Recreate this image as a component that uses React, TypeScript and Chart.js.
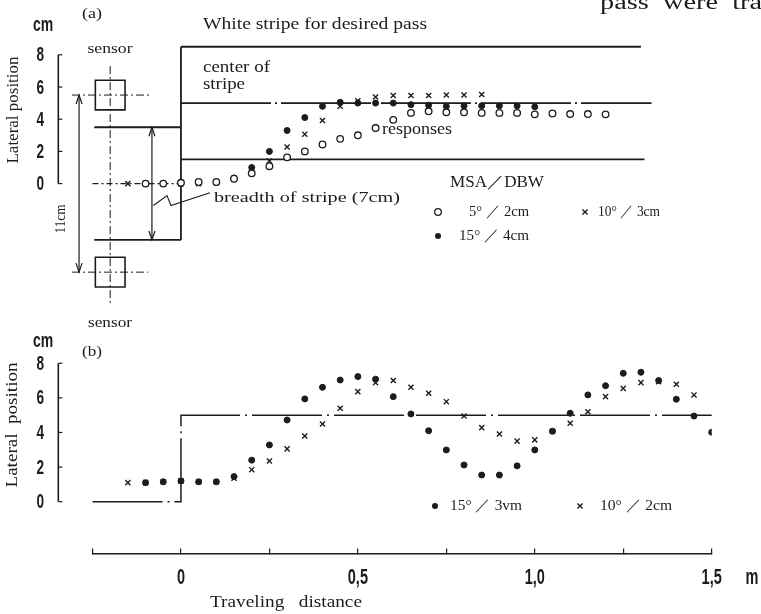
import React, { useEffect, useRef } from 'react';
import { Chart, registerables } from 'chart.js';

Chart.register(...registerables);

const INK = '#1c1c1c';
const SERIF = '"Liberation Serif", "DejaVu Serif", serif';
const SANS = '"Liberation Sans", "DejaVu Sans", sans-serif';

// ---------- (a) responses, traveling distance in m, lateral position in cm ----------
const aDistance = [-0.15, -0.1, -0.05, 0, 0.05, 0.1, 0.15, 0.2, 0.25, 0.3, 0.35, 0.4, 0.45, 0.5, 0.55, 0.6, 0.65, 0.7, 0.75, 0.8, 0.85, 0.9, 0.95, 1.0, 1.05, 1.1, 1.15, 1.2];
const aMsa5Dbw2 = [null, 0, 0, 0.05, 0.1, 0.1, 0.3, 0.64, 1.08, 1.63, 2.0, 2.43, 2.78, 3.0, 3.45, 3.96, 4.39, 4.49, 4.43, 4.43, 4.39, 4.39, 4.39, 4.3, 4.36, 4.32, 4.32, 4.3];
const aMsa10Dbw3 = [0, 0, 0, 0, 0, 0.05, 0.3, 0.9, 1.4, 2.27, 3.07, 3.92, 4.8, 5.15, 5.38, 5.47, 5.47, 5.47, 5.5, 5.5, 5.53, null, null, null, null, null, null, null];
const aMsa15Dbw4 = [null, 0, 0, 0, 0.05, 0.1, 0.35, 1.0, 2.0, 3.3, 4.1, 4.8, 5.05, 5.0, 5.0, 5.0, 4.9, 4.87, 4.8, 4.83, 4.83, 4.83, 4.83, 4.77, null, null, null, null];

// stripe geometry of (a): [distance m, lateral cm]
const aStripeUpperBefore = [[-0.245, 3.5], [0, 3.5]];
const aStripeLowerBefore = [[-0.245, -3.5], [0, -3.5]];
const aStripeUpperAfter = [[0, 8.5], [1.3, 8.5]];
const aStripeLowerAfter = [[0, 1.5], [1.31, 1.5]];
const aStripeStep = [[0, -3.5], [0, 8.5]];
const aCenterBefore = [[-0.25, 0], [0, 0]];
const aCenterAfter = [[0, 5], [1.33, 5]];
const aSensors = [[-0.2, 5.5], [-0.2, -5.5]];
const aSensorAxis = [[-0.2, 7.3], [-0.2, -7.6]];
const aSensorUpperCross = [[-0.308, 5.5], [-0.082, 5.5]];
const aSensorLowerCross = [[-0.308, -5.5], [-0.093, -5.5]];
const aSensorGapArrow = [[-0.288, 5.5], [-0.288, -5.5]];
const aBreadthArrow = [[-0.082, 3.5], [-0.082, -3.5]];
const aBreadthLeader = [[-0.0777, -1.36], [-0.0395, -0.74], [-0.0282, -1.36], [0.082, -0.57]];

// ---------- (b) responses ----------
const bDistance = [-0.15, -0.1, -0.05, 0, 0.05, 0.1, 0.15, 0.2, 0.25, 0.3, 0.35, 0.4, 0.45, 0.5, 0.55, 0.6, 0.65, 0.7, 0.75, 0.8, 0.85, 0.9, 0.95, 1.0, 1.05, 1.1, 1.15, 1.2, 1.25, 1.3, 1.35, 1.4, 1.45, 1.5];
const bMsa15Dbw3 = [null, 1.1, 1.15, 1.2, 1.15, 1.15, 1.45, 2.4, 3.28, 4.72, 5.94, 6.61, 7.03, 7.23, 7.08, 6.07, 5.07, 4.1, 2.99, 2.12, 1.54, 1.54, 2.07, 2.99, 4.07, 5.11, 6.17, 6.7, 7.42, 7.48, 7.0, 5.92, 4.95, 4.01];
const bMsa10Dbw2 = [1.1, 1.1, 1.15, 1.2, 1.15, 1.15, 1.35, 1.85, 2.35, 3.05, 3.8, 4.49, 5.4, 6.36, 6.88, 7.0, 6.61, 6.27, 5.78, 4.95, 4.28, 3.91, 3.5, 3.57, 4.07, 4.53, 5.2, 6.07, 6.55, 6.88, 6.94, 6.79, 6.17, null];
const bDesiredPath = [[-0.25, 0], [0, 0], [0, 5], [1.5, 5]];

// ---------- axes ----------
const yTickValues = [0, 2, 4, 6, 8];
const xTickMarks = [-0.25, 0, 0.25, 0.5, 0.75, 1.0, 1.25, 1.5];
const xTickLabelValues = [0, 0.5, 1.0, 1.5];
const xTickLabelTexts = ['0', '0,5', '1,0', '1,5'];

const B_TOP = 330;

type Pair = number[];
const pts = (xs: number[], ys: (number | null)[]) =>
  xs.map((x, i) => ({ x, y: ys[i] })).filter((p) => p.y !== null) as { x: number; y: number }[];
const path = (pairs: Pair[]) => pairs.map(([x, y]) => ({ x, y }));

const lineDs = (pairs: Pair[], width = 1.6, dash: number[] = []) => ({
  data: path(pairs),
  showLine: true,
  pointRadius: 0,
  borderColor: INK,
  borderWidth: width,
  borderDash: dash,
  fill: false,
  clip: false as const,
  order: 2,
});

const openCircle = { pointStyle: 'circle', pointRadius: 3.3, pointBorderWidth: 1.3, pointBackgroundColor: '#fff', pointBorderColor: INK, showLine: false, order: 0 };
const cross = { pointStyle: 'crossRot', pointRadius: 3.6, pointBorderWidth: 1.4, pointBorderColor: INK, pointBackgroundColor: INK, showLine: false, order: 0 };
const dot = { pointStyle: 'circle', pointRadius: 3, pointBorderWidth: 1, pointBackgroundColor: INK, pointBorderColor: INK, showLine: false, order: 0 };

function fitText(ctx: CanvasRenderingContext2D, text: string, x: number, y: number, w: number, font: string, align: CanvasTextAlign = 'left', rotate = 0, baseline: CanvasTextBaseline = 'middle') {
  ctx.save();
  ctx.font = font;
  const m = ctx.measureText(text).width;
  ctx.translate(x, y);
  if (rotate) ctx.rotate(rotate);
  ctx.scale(w / m, 1);
  ctx.textAlign = align;
  ctx.textBaseline = baseline;
  ctx.fillStyle = INK;
  ctx.fillText(text, 0, 0);
  ctx.restore();
}

function condensed(ctx: CanvasRenderingContext2D, text: string, cx: number, cy: number, size: number, sx = 0.68) {
  ctx.save();
  ctx.font = `bold ${size}px ${SANS}`;
  ctx.translate(cx, cy);
  ctx.scale(sx, 1);
  ctx.textAlign = 'center';
  ctx.textBaseline = 'middle';
  ctx.fillStyle = INK;
  ctx.fillText(text, 0, 0);
  ctx.restore();
}

function drawYAxis(chart: any, axisX: number) {
  const ctx: CanvasRenderingContext2D = chart.ctx;
  const y = chart.scales.y;
  const top = y.getPixelForValue(yTickValues[yTickValues.length - 1]);
  const bot = y.getPixelForValue(yTickValues[0]);
  ctx.save();
  ctx.strokeStyle = INK;
  ctx.lineWidth = 1.6;
  ctx.beginPath();
  ctx.moveTo(axisX, top);
  ctx.lineTo(axisX, bot);
  ctx.stroke();
  ctx.lineWidth = 1.2;
  yTickValues.forEach((v) => {
    const py = y.getPixelForValue(v);
    ctx.beginPath();
    ctx.moveTo(axisX, py);
    ctx.lineTo(axisX + 4, py);
    ctx.stroke();
    condensed(ctx, String(v), axisX - 18, py + 1, 20);
  });
  ctx.restore();
}

function marker(ctx: CanvasRenderingContext2D, kind: 'o' | 'x' | 'dot', x: number, y: number) {
  ctx.save();
  ctx.strokeStyle = INK;
  ctx.fillStyle = INK;
  if (kind === 'o') {
    ctx.lineWidth = 1.3;
    ctx.beginPath();
    ctx.arc(x, y, 3.3, 0, Math.PI * 2);
    ctx.stroke();
  } else if (kind === 'dot') {
    ctx.beginPath();
    ctx.arc(x, y, 3, 0, Math.PI * 2);
    ctx.fill();
  } else {
    ctx.lineWidth = 1.4;
    const r = 2.6;
    ctx.beginPath();
    ctx.moveTo(x - r, y - r); ctx.lineTo(x + r, y + r);
    ctx.moveTo(x + r, y - r); ctx.lineTo(x - r, y + r);
    ctx.stroke();
  }
  ctx.restore();
}

function arrowHeads(chart: any, pairs: Pair[]) {
  const ctx: CanvasRenderingContext2D = chart.ctx;
  const xs = chart.scales.x;
  const ys = chart.scales.y;
  const [a, b] = pairs;
  const ends = [
    { x: xs.getPixelForValue(a[0]), y: ys.getPixelForValue(a[1]), dir: a[1] > b[1] ? 1 : -1 },
    { x: xs.getPixelForValue(b[0]), y: ys.getPixelForValue(b[1]), dir: b[1] > a[1] ? 1 : -1 },
  ];
  ctx.save();
  ctx.strokeStyle = INK;
  ctx.lineWidth = 1.2;
  ends.forEach((e) => {
    ctx.beginPath();
    ctx.moveTo(e.x - 3, e.y + e.dir * 9);
    ctx.lineTo(e.x, e.y);
    ctx.lineTo(e.x + 3, e.y + e.dir * 9);
    ctx.stroke();
  });
  ctx.restore();
}

const annotateA = {
  id: 'annotateA',
  afterDraw(chart: any) {
    const ctx: CanvasRenderingContext2D = chart.ctx;
    drawYAxis(chart, 58.3);
    arrowHeads(chart, aSensorGapArrow);
    arrowHeads(chart, aBreadthArrow);
    const s = (n: number) => `${n}px ${SERIF}`;
    fitText(ctx, 'pass  were  tra', 600, 9, 162, s(20), 'left', 0, 'alphabetic');
    fitText(ctx, '(a)', 82, 14, 20, s(15));
    condensed(ctx, 'cm', 43, 25, 20, 0.7);
    fitText(ctx, 'Lateral position', 14, 110, 107, s(17), 'center', -Math.PI / 2);
    fitText(ctx, 'sensor', 110, 49, 45, s(15), 'center');
    fitText(ctx, 'sensor', 110, 323, 44, s(15), 'center');
    fitText(ctx, '11cm', 61, 219, 29, s(14), 'center', -Math.PI / 2);
    fitText(ctx, 'White stripe for desired pass', 203, 25, 224, s(17));
    fitText(ctx, 'center of', 203, 68, 67, s(16));
    fitText(ctx, 'stripe', 203, 85, 42, s(16));
    fitText(ctx, 'responses', 382, 130, 70, s(16));
    fitText(ctx, 'breadth of stripe (7cm)', 214, 198, 186, s(15));
    fitText(ctx, 'MSA／DBW', 450, 183, 94, s(16));
    marker(ctx, 'o', 438, 212);
    fitText(ctx, '5° ／ 2cm', 469, 212, 60, s(15));
    marker(ctx, 'x', 585, 212);
    fitText(ctx, '10° ／ 3cm', 598, 212, 62, s(15));
    marker(ctx, 'dot', 438, 236);
    fitText(ctx, '15° ／ 4cm', 459, 236, 70, s(15));
  },
};

const annotateB = {
  id: 'annotateB',
  afterDraw(chart: any) {
    const ctx: CanvasRenderingContext2D = chart.ctx;
    drawYAxis(chart, 58.3);
    const xs = chart.scales.x;
    const s = (n: number) => `${n}px ${SERIF}`;
    ctx.save();
    ctx.translate(0, -B_TOP);
    condensed(ctx, 'cm', 43, 341, 20, 0.7);
    fitText(ctx, '(b)', 82, 352, 20, s(15));
    fitText(ctx, 'Lateral  position', 13, 425, 125, s(17), 'center', -Math.PI / 2);
    marker(ctx, 'dot', 435, 506);
    fitText(ctx, '15° ／ 3vm', 450, 506, 72, s(15));
    marker(ctx, 'x', 580, 506);
    fitText(ctx, '10° ／ 2cm', 600, 506, 72, s(15));
    xTickLabelValues.forEach((v, i) => {
      condensed(ctx, xTickLabelTexts[i], xs.getPixelForValue(v), 578, 22, 0.66);
    });
    condensed(ctx, 'm', 752, 578, 22, 0.66);
    fitText(ctx, 'Traveling   distance', 210, 603, 152, s(17));
    ctx.restore();
  },
};

export default function App() {
  const refA = useRef<HTMLCanvasElement>(null);
  const refB = useRef<HTMLCanvasElement>(null);

  useEffect(() => {
    const chartA = new Chart(refA.current as HTMLCanvasElement, {
      type: 'scatter',
      data: {
        datasets: [
          { label: '5° / 2cm', data: pts(aDistance, aMsa5Dbw2), ...openCircle } as any,
          { label: '10° / 3cm', data: pts(aDistance, aMsa10Dbw3), ...cross } as any,
          { label: '15° / 4cm', data: pts(aDistance, aMsa15Dbw4), ...dot } as any,
          { label: 'sensor', data: path(aSensors), pointStyle: 'rect', pointRadius: 21, pointBorderWidth: 1.6, pointBorderColor: INK, pointBackgroundColor: 'rgba(0,0,0,0)', showLine: false, order: 1 } as any,
          lineDs(aStripeUpperBefore, 1.8),
          lineDs(aStripeLowerBefore, 1.8),
          lineDs(aStripeUpperAfter, 1.8),
          lineDs(aStripeLowerAfter, 1.8),
          lineDs(aStripeStep, 1.8),
          lineDs(aCenterBefore, 1.4, [6, 3, 2, 3]),
          lineDs(aCenterAfter, 1.6, [90, 4, 2, 4]),
          lineDs(aSensorAxis, 1, [8, 3, 2, 3]),
          lineDs(aSensorUpperCross, 1, [8, 3, 2, 3]),
          lineDs(aSensorLowerCross, 1, [8, 3, 2, 3]),
          lineDs(aSensorGapArrow, 1.2),
          lineDs(aBreadthArrow, 1.2),
          lineDs(aBreadthLeader, 1.1),
        ] as any,
      },
      options: {
        responsive: false,
        animation: false,
        devicePixelRatio: 1,
        layout: { padding: { left: 92.5, right: 49.3, top: 8, bottom: 10.2 } },
        scales: {
          x: { type: 'linear', min: -0.25, max: 1.5, display: false },
          y: { type: 'linear', min: -8, max: 10, display: false },
        },
        plugins: { legend: { display: false }, tooltip: { enabled: false } },
      },
      plugins: [annotateA],
    } as any);

    const chartB = new Chart(refB.current as HTMLCanvasElement, {
      type: 'scatter',
      data: {
        datasets: [
          { label: '15° / 3vm', data: pts(bDistance, bMsa15Dbw3), ...dot } as any,
          { label: '10° / 2cm', data: pts(bDistance, bMsa10Dbw2), ...cross } as any,
          lineDs(bDesiredPath, 1.5, [70, 5, 2, 5]),
        ] as any,
      },
      options: {
        responsive: false,
        animation: false,
        devicePixelRatio: 1,
        layout: { padding: { left: 92.5, right: 49.3, top: 24.6, bottom: 0 } },
        scales: {
          x: {
            type: 'linear',
            min: xTickMarks[0],
            max: xTickMarks[xTickMarks.length - 1],
            position: 'bottom',
            afterBuildTicks: (scale: any) => {
              scale.ticks = xTickMarks.map((v) => ({ value: v }));
            },
            afterFit: (scale: any) => {
              scale.height = 60.4;
            },
            border: { display: true, color: INK, width: 1.6 },
            grid: { display: true, drawOnChartArea: false, drawTicks: true, tickLength: -5, color: INK, lineWidth: 1.2 },
            ticks: { display: false, autoSkip: false, maxRotation: 0 },
          },
          y: { type: 'linear', min: -3, max: 8.5, display: false },
        },
        plugins: { legend: { display: false }, tooltip: { enabled: false } },
      },
      plugins: [annotateB],
    } as any);

    return () => {
      chartA.destroy();
      chartB.destroy();
    };
  }, []);

  return (
    <div>
      <canvas ref={refA} width={761} height={335} style={{ position: 'absolute', left: 0, top: 0, width: 761, height: 335 }} />
      <canvas ref={refB} width={761} height={284} style={{ position: 'absolute', left: 0, top: B_TOP, width: 761, height: 284 }} />
    </div>
  );
}
